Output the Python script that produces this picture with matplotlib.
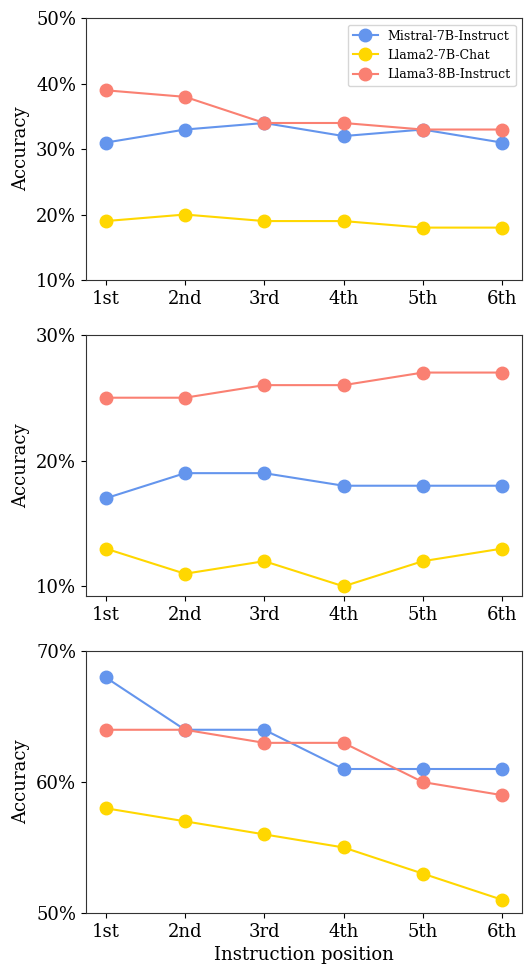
import matplotlib.pyplot as plt
from matplotlib.ticker import FuncFormatter

plt.rcParams["font.family"] = "DejaVu Serif"

posicoes = ["1st", "2nd", "3rd", "4th", "5th", "6th"]
modelos = ["Mistral-7B-Instruct", "Llama2-7B-Chat", "Llama3-8B-Instruct"]
cores = ["cornflowerblue", "gold", "salmon"]

# accuracy (%) per panel, one list per model
painel_1 = [
    [31, 33, 34, 32, 33, 31],
    [19, 20, 19, 19, 18, 18],
    [39, 38, 34, 34, 33, 33],
]
painel_2 = [
    [17, 19, 19, 18, 18, 18],
    [13, 11, 12, 10, 12, 13],
    [25, 25, 26, 26, 27, 27],
]
painel_3 = [
    [68, 64, 64, 61, 61, 61],
    [58, 57, 56, 55, 53, 51],
    [64, 64, 63, 63, 60, 59],
]
paineis = [painel_1, painel_2, painel_3]
limites = [(10, 50), (9.2, 30), (50, 70)]
ticks_y = [[10, 20, 30, 40, 50], [10, 20, 30], [50, 60, 70]]

fig, axes = plt.subplots(3, 1, figsize=(5.24, 9.67), dpi=100)
fig.subplots_adjust(left=0.164, right=0.996, top=0.981, bottom=0.056, hspace=0.21)

x = list(range(len(posicoes)))
for ax, dados, lim, yt in zip(axes, paineis, limites, ticks_y):
    for serie, nome, cor in zip(dados, modelos, cores):
        ax.plot(x, serie, "o-", color=cor, label=nome, markersize=9, linewidth=1.5)
    ax.set_ylim(*lim)
    ax.set_yticks(yt)
    ax.yaxis.set_major_formatter(FuncFormatter(lambda v, p: f"{v:.0f}%"))
    ax.set_xticks(x, posicoes)
    ax.set_ylabel("Accuracy", fontsize=13)
    ax.tick_params(labelsize=13)
    for s in ax.spines.values():
        s.set_color("#333333")

axes[0].legend(loc="upper right", fontsize=9)
axes[2].set_xlabel("Instruction position", fontsize=13)

plt.savefig("out.png", dpi=100)
